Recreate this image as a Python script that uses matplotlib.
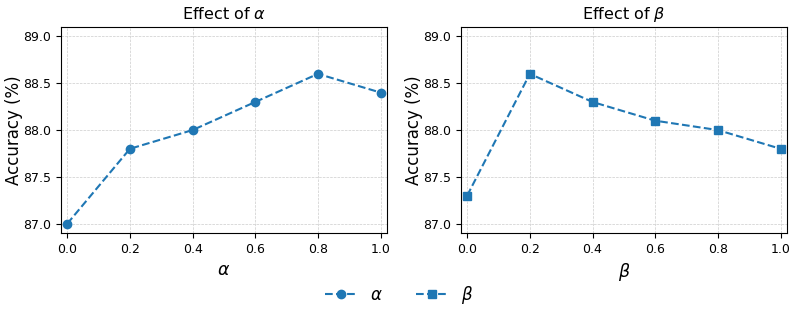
import matplotlib
matplotlib.use("Agg")
import matplotlib.pyplot as plt

x_vals = [0.0, 0.2, 0.4, 0.6, 0.8, 1.0]
alpha_acc = [87.0, 87.8, 88.0, 88.3, 88.6, 88.4]
beta_acc = [87.3, 88.6, 88.3, 88.1, 88.0, 87.8]
color = "#1f77b4"

fig, axes = plt.subplots(1, 2, figsize=(7.98, 3.18), dpi=100)
specs = [(alpha_acc, "o", r"$\alpha$"), (beta_acc, "s", r"$\beta$")]
handles = []
for ax, (vals, mk, lab) in zip(axes, specs):
    h, = ax.plot(x_vals, vals, linestyle="--", marker=mk, color=color, markersize=6, linewidth=1.5, label=lab)
    handles.append(h)
    ax.set_title("Effect of " + lab, fontsize=11.5)
    ax.set_xlabel(lab, fontsize=12.5)
    ax.set_ylabel("Accuracy (%)", fontsize=12, labelpad=0)
    ax.set_xlim(-0.02, 1.02)
    ax.set_ylim(86.9, 89.1)
    ax.set_yticks([87.0, 87.5, 88.0, 88.5, 89.0])
    ax.set_xticks(x_vals)
    ax.tick_params(labelsize=9)
    ax.grid(True, linestyle="--", linewidth=0.5, color="#cccccc")

fig.legend(handles=handles, loc="center", ncol=2, frameon=False, fontsize=12,
           handlelength=1.9, bbox_to_anchor=(0.5, 23 / 318))
fig.subplots_adjust(left=0.0764, right=0.986, top=0.915, bottom=0.267, wspace=0.227)
fig.savefig("out.png", dpi=100)
